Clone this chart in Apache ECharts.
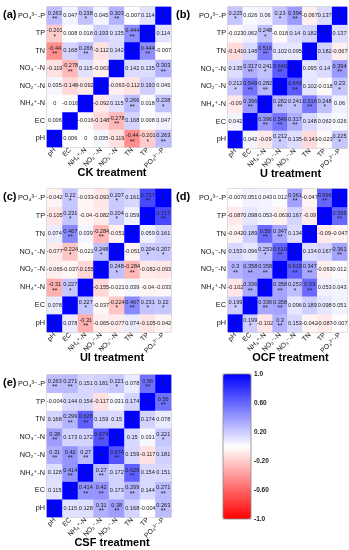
<!DOCTYPE html>
<html><head><meta charset="utf-8">
<script src="https://cdn.jsdelivr.net/npm/echarts@6/dist/echarts.min.js"></script>
<style>html,body{margin:0;padding:0;background:#fff}#c{width:349px;height:550px}</style>
</head><body><div id="c"></div>
<script>
// Variable names (bottom to top on y, left to right on x)
const vars = ['pH','EC','NH₄⁺-N','NO₂⁻-N','NO₃⁻-N','TN','TP','PO₄³⁻-P'];
// Lower-triangle correlations: row i lists r(var i, var j) for j < i
const ckR = [
 [0.006],
 [0, -0.016],
 [0.035, -0.148, -0.092],
 [-0.119, -0.278, 0.115, -0.063],
 [-0.44, 0.168, 0.266, -0.112, 0.142],
 [-0.201, 0.008, 0.018, 0.193, 0.135, 0.444],
 [0.263, 0.047, 0.238, 0.045, 0.303, -0.007, 0.114]
];
const ckS = [[0],[0,0],[0,0,0],[0,2,0,0],[2,0,2,0,0],[1,0,0,0,0,2],[2,0,1,0,2,0,0]];
const uR = [
 [0.042],
 [-0.09, 0.396],
 [0.212, 0.549, 0.282],
 [0.135, 0.317, 0.241, 0.649],
 [-0.141, 0.148, 0.516, 0.102, 0.095],
 [-0.023, 0.062, 0.248, -0.018, 0.14, 0.182],
 [0.225, 0.026, 0.06, 0.23, 0.394, -0.067, 0.137]
];
const uS = [[0],[0,2],[1,2,2],[0,2,1,2],[0,0,2,0,0],[0,0,1,0,0,0],[1,0,0,1,2,0,0]];
const uiR = [
 [0.078],
 [-0.31, 0.227],
 [-0.065, -0.037, -0.155],
 [-0.077, -0.224, -0.021, 0.248],
 [0.074, 0.467, 0.039, -0.284, -0.051],
 [-0.105, 0.231, -0.04, -0.082, 0.204, 0.059],
 [-0.042, 0.22, -0.033, -0.093, 0.207, 0.161, 0.717]
];
const uiS = [[0],[2,1],[0,0,0],[0,1,0,1],[0,2,0,2,0],[0,1,0,0,1,0],[0,1,0,0,1,0,2]];
const ocfR = [
 [0.199],
 [-0.102, 0.336],
 [0.3, 0.358, 0.358],
 [0.153, 0.096, 0.253, 0.619],
 [-0.042, 0.189, 0.59, 0.347, 0.134],
 [-0.087, 0.098, 0.053, -0.063, 0.167, -0.09],
 [-0.007, 0.051, 0.043, 0.012, 0.361, -0.047, 0.596]
];
const ocfS = [[1],[0,2],[2,2,2],[0,0,1,2],[0,0,2,2,0],[0,0,0,0,0,0],[0,0,0,0,2,0,2]];
const csfR = [
 [0.115],
 [0.128, 0.414],
 [0.31, 0.42, 0.27],
 [0.38, 0.173, 0.172, 0.674],
 [0.168, 0.299, 0.626, 0.159, 0.15],
 [-0.004, 0.144, 0.154, -0.117, 0.031, 0.174],
 [0.263, 0.271, 0.151, 0.181, 0.221, 0.078, 0.56]
];
const csfS = [[0],[0,2],[2,2,2],[2,0,0,2],[0,2,2,0,0],[0,0,0,0,0,0],[2,2,0,0,1,0,2]];
const panelTags = ['(a)','(b)','(c)','(d)','(e)'];
const panelTitles = ['CK treatment','U treatment','UI treatment','OCF treatment','CSF treatment'];
const colorbarTicks = [-1, -0.6, -0.2, 0.2, 0.6, 1];
const colorbarLabels = ['-1.0','-0.60','-0.20','0.20','0.60','1.0'];

const panels = [[ckR,ckS],[uR,uS],[uiR,uiS],[ocfR,ocfS],[csfR,csfS]];
const grids = [
 {left:47, top:7, width:124, height:140},
 {left:228, top:7, width:119, height:141},
 {left:47, top:189, width:124, height:143},
 {left:228, top:189, width:119, height:143},
 {left:47, top:375, width:124, height:142}
];
const FF = '"Liberation Sans", "DejaVu Sans", Arial, sans-serif';

function cell(R, S, i, j) {
  if (i === j) return [1, 0];
  if (i > j) return [R[i-1][j], S[i-1][j]];
  return [R[j-1][i], S[j-1][i]];
}
function buildData(R, S) {
  const d = [];
  for (let x = 0; x < 8; x++) for (let y = 0; y < 8; y++) {
    const c = cell(R, S, x, y);
    d.push({value: [x, y, c[0]], stars: c[1]});
  }
  return d;
}

const option = {
  animation: false,
  textStyle: {fontFamily: FF},
  grid: [], xAxis: [], yAxis: [], series: [],
  visualMap: {
    type: 'continuous', min: -1, max: 1, seriesIndex: [0,1,2,3,4],
    left: 223, top: 374, itemWidth: 28, itemHeight: 145, padding: 0,
    calculable: false, hoverLink: false, showLabel: false, text: null,
    inRange: {color: ['#ff0000', '#ffffff', '#0000ff']}
  },
  graphic: []
};

panels.forEach((p, k) => {
  const g = grids[k];
  option.grid.push(Object.assign({show: true, borderColor: '#999', borderWidth: 0.8, backgroundColor: 'transparent'}, g));
  option.xAxis.push({
    type: 'category', data: vars, gridIndex: k,
    axisTick: {show: false}, axisLine: {show: false}, splitLine: {show: false},
    axisLabel: {interval: 0, rotate: 45, fontSize: 6.8, color: '#111', margin: 2, fontFamily: FF}
  });
  option.yAxis.push({
    type: 'category', data: vars, gridIndex: k,
    axisTick: {show: false}, axisLine: {show: false}, splitLine: {show: false},
    axisLabel: {interval: 0, fontSize: 7.3, color: '#111', margin: 2, fontFamily: FF}
  });
  option.series.push({
    type: 'heatmap', xAxisIndex: k, yAxisIndex: k,
    data: buildData(p[0], p[1]),
    label: {
      show: true, color: '#222', fontFamily: FF,
      formatter: (prm) => {
        const v = String(prm.data.value[2]);
        const s = prm.data.stars ? '\n{s|' + '*'.repeat(prm.data.stars) + '}' : '';
        return '{v|' + v + '}' + s;
      },
      rich: {
        v: {fontSize: 5.6, lineHeight: 7, color: '#222', fontFamily: FF},
        s: {fontSize: 6.5, lineHeight: 5, color: '#222', fontFamily: FF}
      }
    },
    itemStyle: {borderWidth: 0},
    emphasis: {disabled: true}
  });
  option.graphic.push({
    type: 'text', x: (k % 2 === 0) ? 3 : 176, y: g.top + 8,
    style: {text: panelTags[k], font: 'bold 11px ' + FF, fill: '#000', verticalAlign: 'middle', align: 'left'}
  });
  option.graphic.push({
    type: 'text', x: g.left + g.width / 2 + 3, y: g.top + g.height + 26,
    style: {text: panelTitles[k], font: 'bold 11px ' + FF, fill: '#000', verticalAlign: 'middle', align: 'center'}
  });
});

// colorbar axis (labels only)
option.grid.push({left: 223, top: 374, width: 28, height: 145, show: true, borderColor: '#888', borderWidth: 0.8, backgroundColor: 'transparent', z: 10});
option.xAxis.push({type: 'value', gridIndex: 5, show: false});
option.yAxis.push({
  type: 'value', gridIndex: 5, position: 'right', min: -1, max: 1, interval: 0.4,
  axisLine: {show: false}, axisTick: {show: false}, splitLine: {show: false},
  axisLabel: {fontSize: 6.5, fontWeight: 'bold', color: '#222', margin: 3, fontFamily: FF,
    formatter: (v) => { const i = colorbarTicks.findIndex(t => Math.abs(t - v) < 1e-6); return i >= 0 ? colorbarLabels[i] : ''; }}
});

const chart = echarts.init(document.getElementById('c'), null, {renderer: 'canvas'});
chart.setOption(option);
</script></body></html>
